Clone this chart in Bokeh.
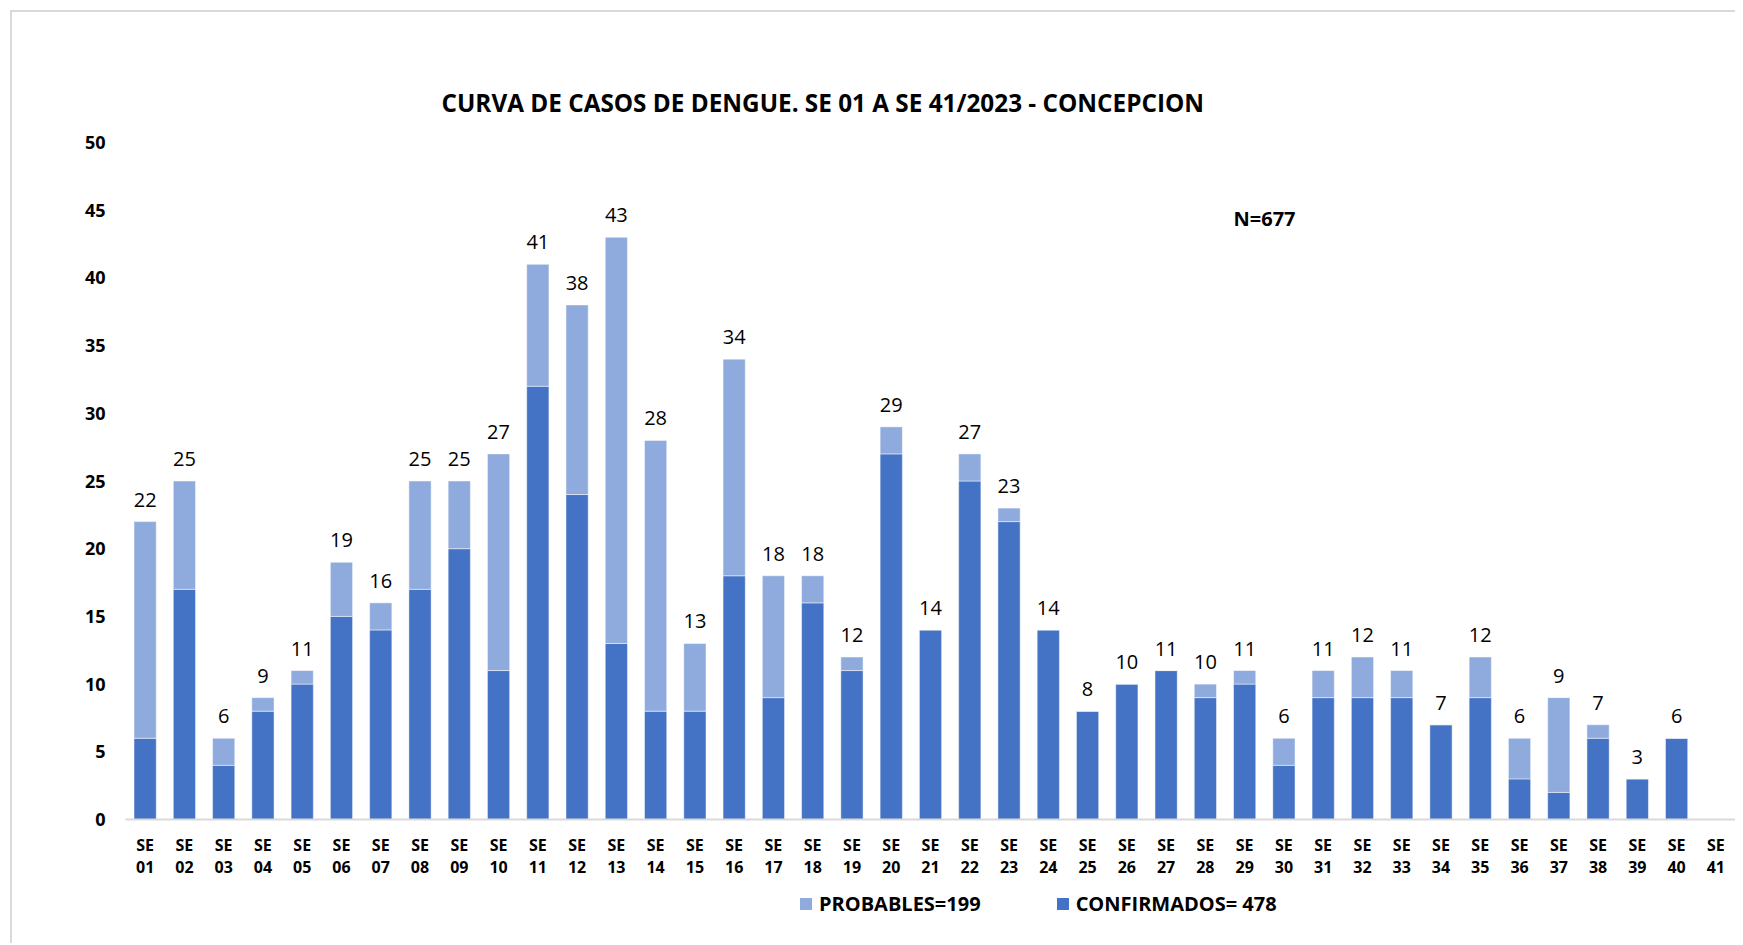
from bokeh.plotting import figure
from bokeh.layouts import column
from bokeh.models import ColumnDataSource, FactorRange, Range1d, Legend, LegendItem, Label, FixedTicker
from bokeh.core.properties import value
from bokeh.embed import file_html
from bokeh.resources import INLINE

# ---------------- data ----------------
week_numbers = ["01", "02", "03", "04", "05", "06", "07", "08", "09", "10",
                "11", "12", "13", "14", "15", "16", "17", "18", "19", "20",
                "21", "22", "23", "24", "25", "26", "27", "28", "29", "30",
                "31", "32", "33", "34", "35", "36", "37", "38", "39", "40", "41"]
confirmados = [6, 17, 4, 8, 10, 15, 14, 17, 20, 11,
               32, 24, 13, 8, 8, 18, 9, 16, 11, 27,
               14, 25, 22, 14, 8, 10, 11, 9, 10, 4,
               9, 9, 9, 7, 9, 3, 2, 6, 3, 6, 0]
probables = [16, 8, 2, 1, 1, 4, 2, 8, 5, 16,
             9, 14, 30, 20, 5, 16, 9, 2, 1, 2,
             0, 2, 1, 0, 0, 0, 0, 1, 1, 2,
             2, 3, 2, 0, 3, 3, 7, 1, 0, 0, 0]
y_ticks = [0, 5, 10, 15, 20, 25, 30, 35, 40, 45, 50]
title_text = "CURVA DE CASOS DE DENGUE. SE 01 A SE 41/2023 - CONCEPCION"
legend_prob = "PROBABLES=199"
legend_conf = "CONFIRMADOS= 478"
n_text = "N=677"

# ---------------- styles ----------------
C_CONF = "#4472C4"
C_PROB = "#8FAADC"
FONT = "Open Sans"

cats = ["SE\n" + w for w in week_numbers]
totals = [c + p for c, p in zip(confirmados, probables)]

src = ColumnDataSource(dict(cat=cats, conf=confirmados, prob=probables))
lab_idx = [i for i, t in enumerate(totals) if t > 0]
lab_src = ColumnDataSource(dict(cat=[cats[i] for i in lab_idx],
                                y=[totals[i] for i in lab_idx],
                                txt=[str(totals[i]) for i in lab_idx]))

p = figure(width=1723, height=868, x_range=FactorRange(*cats, range_padding=0),
           y_range=Range1d(0, 50), output_backend="svg", toolbar_location=None,
           min_border_left=113, min_border_right=0, min_border_top=130, min_border_bottom=60)
p.outline_line_color = None
p.background_fill_color = "white"
p.border_fill_color = "white"
p.xgrid.grid_line_color = None
p.ygrid.grid_line_color = None

p.title.text = title_text
p.title.align = "left"
p.title.offset = 316
p.title.standoff = 48
p.title.text_font = FONT
p.title.text_font_style = "bold"
p.title.text_font_size = "24.3px"
p.title.text_color = "#000000"

rs = p.vbar_stack(["conf", "prob"], x="cat", width=0.566, color=[C_CONF, C_PROB],
                  line_color="white", line_width=0.8, line_alpha=0.6, source=src)

p.text(x="cat", y="y", text="txt", source=lab_src, text_align="center",
       text_baseline="middle", y_offset=-22, text_font=value(FONT),
       text_font_size="20px", text_color="#000000")

# axes
p.yaxis.ticker = FixedTicker(ticks=y_ticks)
p.yaxis.axis_line_color = None
p.yaxis.major_tick_line_color = None
p.yaxis.minor_tick_line_color = None
p.yaxis.major_label_standoff = 14
p.yaxis.major_label_text_font = FONT
p.yaxis.major_label_text_font_style = "bold"
p.yaxis.major_label_text_font_size = "18px"
p.yaxis.major_label_text_color = "#000000"

p.xaxis.axis_line_color = "#D9D9D9"
p.xaxis.axis_line_width = 2
p.xaxis.major_tick_line_color = None
p.xaxis.minor_tick_line_color = None
p.xaxis.major_label_standoff = 8
p.xaxis.major_label_text_font = FONT
p.xaxis.major_label_text_font_style = "bold"
p.xaxis.major_label_text_font_size = "16px"
p.xaxis.major_label_text_color = "#000000"
p.xaxis.major_label_text_line_height = 1.0

p.add_layout(Label(x=1108, y=601, x_units="screen", y_units="screen", text=n_text,
                   text_align="left", text_baseline="middle", text_font=FONT,
                   text_font_style="bold", text_font_size="20px", text_color="#000000"))

# legend strip below the chart (swatch renderers sit outside the visible range)
p2 = figure(width=1723, height=63, x_range=Range1d(0, 1), y_range=Range1d(0, 1),
            output_backend="svg", toolbar_location=None,
            min_border_left=0, min_border_right=0, min_border_top=0, min_border_bottom=0)
p2.axis.visible = False
p2.grid.visible = False
p2.outline_line_color = None
p2.border_fill_color = "white"
lr_prob = p2.vbar(x=[-1], top=[0], width=0.1, fill_color=C_PROB, line_color=None)
lr_conf = p2.vbar(x=[-1], top=[0], width=0.1, fill_color=C_CONF, line_color=None)
legend = Legend(items=[LegendItem(label=legend_prob, renderers=[lr_prob]),
                       LegendItem(label=legend_conf, renderers=[lr_conf])],
                location=(673, 26), orientation="horizontal",
                glyph_width=15, glyph_height=15, label_standoff=6, spacing=74,
                padding=0, margin=0, border_line_color=None, background_fill_alpha=0,
                label_text_font=FONT, label_text_font_style="bold",
                label_text_font_size="20px", label_text_color="#000000")
p2.add_layout(legend)

layout = column(p, p2, spacing=0,
                styles={"border-top": "2px solid #D9D9D9", "border-left": "2px solid #D9D9D9",
                        "margin-left": "10px", "margin-top": "10px"})

open("out.html", "w").write(file_html(layout, INLINE))
